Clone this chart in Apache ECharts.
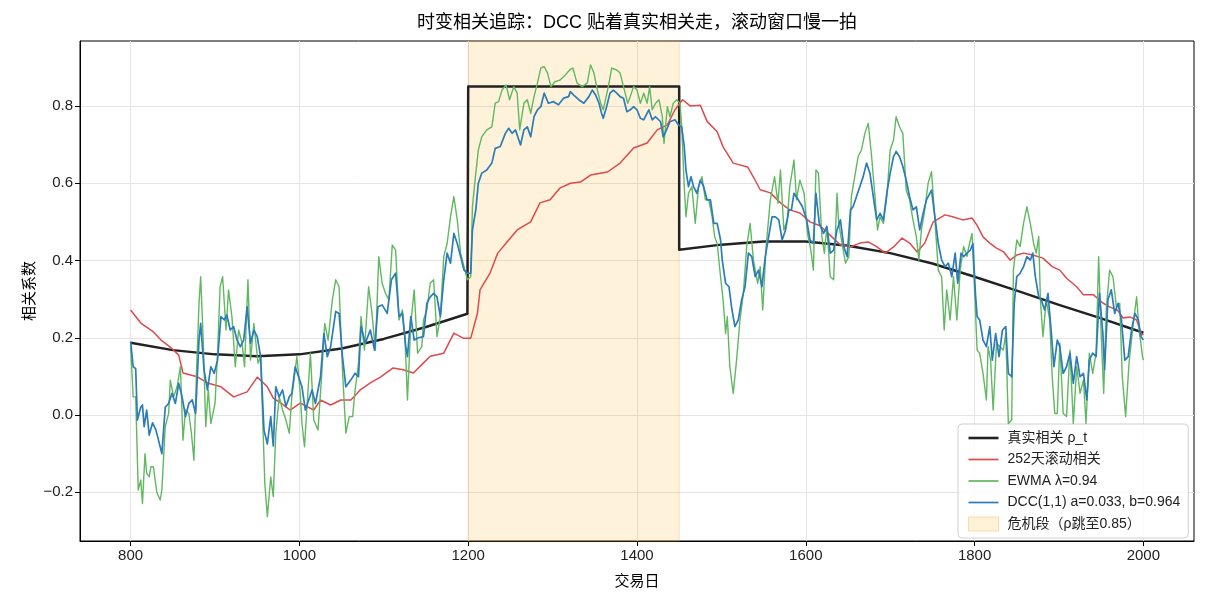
<!DOCTYPE html>
<html>
<head>
<meta charset="utf-8">
<script src="https://cdn.jsdelivr.net/npm/echarts@6/dist/echarts.min.js"></script>
<style>
html,body{margin:0;padding:0;background:#fff;}
#chart{width:1210px;height:605px;}
</style>
</head>
<body>
<div id="chart"></div>
<script>
// ---- data ----
const xTicks = [800, 1000, 1200, 1400, 1600, 1800, 2000];
const yTicks = [-0.2, 0.0, 0.2, 0.4, 0.6, 0.8];
const crisisRange = [1200, 1450];

const trueRho = [
  [800,0.187],[850,0.168],[900,0.157],[950,0.152],[1000,0.157],[1050,0.172],[1100,0.197],[1150,0.228],[1199,0.262],
  [1200,0.85],[1450,0.85],[1450,0.428],
  [1500,0.441],[1550,0.449],[1600,0.449],[1650,0.438],[1700,0.419],[1750,0.392],[1800,0.358],[1850,0.322],[1900,0.285],[1950,0.25],[2000,0.213]
];

const rolling252 = [
  [800,0.272],[812,0.238],[827,0.215],[836,0.194],[847,0.176],[857,0.155],[862,0.109],[879,0.099],[891,0.083],[907,0.073],
  [922,0.047],[938,0.06],[950,0.098],[962,0.073],[969,0.044],[978,0.031],[989,0.013],[1001,0.031],[1017,0.013],[1025,0.039],
  [1037,0.026],[1049,0.039],[1061,0.039],[1072,0.065],[1084,0.083],[1096,0.098],[1111,0.122],[1123,0.117],[1135,0.109],[1147,0.135],
  [1155,0.152],[1171,0.16],[1183,0.212],[1194,0.199],[1203,0.199],[1211,0.264],[1214,0.324],[1226,0.368],[1235,0.419],[1246,0.448],
  [1258,0.479],[1274,0.5],[1285,0.549],[1297,0.557],[1309,0.588],[1321,0.6],[1333,0.603],[1345,0.621],[1365,0.629],[1380,0.652],
  [1396,0.691],[1412,0.704],[1424,0.738],[1436,0.751],[1445,0.79],[1454,0.816],[1463,0.8],[1475,0.802],[1483,0.76],[1495,0.733],
  [1502,0.694],[1514,0.652],[1531,0.642],[1538,0.616],[1546,0.583],[1558,0.575],[1570,0.549],[1581,0.531],[1593,0.523],[1605,0.5],
  [1617,0.49],[1629,0.465],[1641,0.44],[1653,0.435],[1664,0.445],[1674,0.448],[1684,0.436],[1694,0.419],[1704,0.435],[1714,0.458],
  [1723,0.445],[1732,0.422],[1741,0.445],[1751,0.5],[1765,0.518],[1774,0.513],[1786,0.505],[1797,0.51],[1803,0.491],[1810,0.461],
  [1818,0.445],[1826,0.432],[1834,0.423],[1842,0.401],[1850,0.414],[1858,0.419],[1869,0.414],[1881,0.406],[1892,0.384],[1901,0.375],
  [1909,0.354],[1921,0.332],[1929,0.311],[1941,0.311],[1952,0.29],[1960,0.28],[1969,0.272],[1976,0.251],[1984,0.254],[1992,0.246],
  [1998,0.207],[2000,0.21]
];

const ewma = [
  [800,0.177],[803,0.047],[806,0.047],[809,-0.194],[812,-0.168],[814,-0.229],[817,-0.1],[819,-0.151],[822,-0.16],[824,-0.134],
  [827,-0.134],[831,-0.2],[835,-0.22],[837,-0.194],[841,-0.03],[845,0.004],[847,0.09],[851,0.047],[855,0.073],[859,0.125],
  [862,-0.065],[865,0.013],[869,0.004],[872,-0.047],[875,-0.117],[878,0.108],[881,0.289],[883,0.358],[886,0.194],[889,-0.03],
  [892,0.065],[895,-0.022],[900,0.03],[903,0.16],[906,0.332],[909,0.358],[913,0.22],[916,0.324],[920,0.255],[924,0.125],
  [928,0.22],[932,0.186],[935,0.125],[939,0.35],[942,0.142],[946,0.237],[951,0.134],[954,0.151],[959,-0.177],[962,-0.263],
  [966,-0.16],[969,-0.211],[972,-0.047],[976,0.047],[980,0.013],[984,-0.013],[988,-0.047],[991,0.047],[997,0.151],[1001,0.056],
  [1003,-0.022],[1006,-0.082],[1009,0.022],[1013,0.16],[1017,-0.013],[1022,-0.039],[1026,0.091],[1030,0.237],[1034,0.194],[1039,0.298],
  [1043,0.35],[1047,0.332],[1051,0.117],[1055,-0.047],[1059,-0.004],[1063,-0.004],[1066,0.065],[1070,0.134],[1073,0.255],[1077,0.168],
  [1082,0.332],[1086,0.263],[1090,0.168],[1094,0.41],[1098,0.341],[1102,0.315],[1106,0.298],[1110,0.44],[1114,0.427],[1118,0.246],
  [1122,0.272],[1125,0.203],[1128,0.039],[1132,0.237],[1136,0.324],[1140,0.16],[1145,0.177],[1147,0.246],[1151,0.272],[1155,0.341],
  [1159,0.35],[1163,0.203],[1167,0.255],[1171,0.41],[1175,0.444],[1179,0.513],[1183,0.565],[1187,0.505],[1191,0.419],[1195,0.384],
  [1199,0.35],[1203,0.358],[1205,0.539],[1209,0.626],[1212,0.686],[1216,0.72],[1222,0.738],[1228,0.746],[1232,0.807],[1236,0.811],
  [1240,0.841],[1245,0.854],[1249,0.816],[1254,0.85],[1258,0.833],[1261,0.738],[1266,0.807],[1270,0.816],[1274,0.781],[1278,0.824],
  [1282,0.859],[1286,0.898],[1290,0.902],[1294,0.885],[1298,0.85],[1303,0.863],[1309,0.867],[1315,0.88],[1321,0.895],[1324,0.898],
  [1329,0.859],[1335,0.85],[1341,0.859],[1345,0.906],[1349,0.885],[1353,0.841],[1357,0.807],[1360,0.79],[1366,0.85],[1370,0.898],
  [1376,0.893],[1380,0.885],[1384,0.85],[1389,0.807],[1392,0.824],[1396,0.85],[1400,0.841],[1404,0.807],[1408,0.833],[1412,0.807],
  [1415,0.85],[1418,0.79],[1422,0.807],[1426,0.816],[1430,0.772],[1432,0.703],[1436,0.798],[1439,0.772],[1443,0.807],[1447,0.816],
  [1451,0.807],[1453,0.746],[1456,0.591],[1458,0.513],[1461,0.574],[1465,0.591],[1469,0.496],[1473,0.591],[1477,0.617],[1481,0.557],
  [1485,0.557],[1489,0.513],[1492,0.462],[1495,0.444],[1499,0.358],[1502,0.298],[1505,0.211],[1507,0.255],[1510,0.125],[1514,0.056],
  [1516,0.056],[1518,0.142],[1522,0.246],[1526,0.315],[1530,0.436],[1534,0.496],[1538,0.401],[1543,0.341],[1546,0.384],[1549,0.272],
  [1553,0.436],[1558,0.557],[1563,0.617],[1567,0.548],[1570,0.634],[1574,0.479],[1578,0.505],[1581,0.591],[1586,0.66],[1589,0.557],
  [1593,0.608],[1598,0.574],[1602,0.47],[1606,0.427],[1609,0.375],[1612,0.634],[1615,0.626],[1619,0.462],[1622,0.419],[1625,0.488],
  [1629,0.358],[1633,0.35],[1637,0.574],[1639,0.496],[1643,0.444],[1647,0.393],[1651,0.41],[1654,0.565],[1658,0.617],[1662,0.669],
  [1666,0.686],[1670,0.729],[1674,0.755],[1678,0.669],[1682,0.565],[1685,0.479],[1688,0.513],[1692,0.496],[1696,0.565],[1700,0.686],
  [1704,0.712],[1707,0.772],[1711,0.746],[1715,0.729],[1719,0.582],[1723,0.557],[1727,0.505],[1731,0.462],[1734,0.401],[1737,0.479],
  [1741,0.531],[1745,0.6],[1749,0.63],[1753,0.505],[1757,0.375],[1761,0.358],[1764,0.22],[1767,0.324],[1771,0.246],[1775,0.358],
  [1779,0.246],[1783,0.375],[1787,0.436],[1791,0.41],[1794,0.444],[1797,0.47],[1801,0.272],[1803,0.168],[1806,0.16],[1810,0.108],
  [1814,0.039],[1816,0.177],[1819,0.142],[1822,0.013],[1826,0.186],[1830,0.177],[1834,0.168],[1837,0.211],[1840,-0.022],[1844,-0.013],
  [1846,0.375],[1850,0.453],[1854,0.436],[1858,0.496],[1862,0.539],[1866,0.496],[1870,0.444],[1873,0.419],[1876,0.462],[1878,0.298],
  [1881,0.203],[1885,0.298],[1889,0.246],[1892,0.099],[1895,0.004],[1898,0.004],[1901,0.186],[1905,0.004],[1909,-0.004],[1913,0.168],
  [1917,-0.022],[1921,0.125],[1925,0.056],[1929,0.091],[1932,-0.022],[1936,0.16],[1940,0.108],[1944,0.16],[1947,0.41],[1950,0.211],
  [1953,0.056],[1956,0.272],[1960,0.375],[1964,0.358],[1968,0.28],[1972,0.289],[1975,0.099],[1979,-0.004],[1983,0.134],[1988,0.237],
  [1992,0.306],[1995,0.22],[1999,0.151],[2000,0.142]
];

const dcc = [
  [800,0.19],[803,0.125],[806,0.12],[808,-0.013],[810,0.004],[812,0.02],[814,0.026],[816,-0.03],[819,0.013],[822,-0.052],
  [826,-0.02],[830,-0.039],[833,-0.065],[837,-0.1],[841,0.02],[845,0.03],[849,0.056],[853,0.03],[857,0.082],[861,0.047],
  [865,-0.004],[869,0.03],[873,0.039],[877,0.004],[881,0.194],[883,0.237],[887,0.117],[891,0.065],[895,0.125],[899,0.108],
  [903,0.142],[907,0.255],[911,0.246],[914,0.259],[918,0.22],[922,0.229],[926,0.194],[930,0.177],[934,0.194],[938,0.28],
  [942,0.186],[946,0.22],[950,0.203],[954,0.151],[958,-0.039],[962,-0.075],[966,-0.004],[969,-0.08],[972,0.073],[976,0.047],
  [980,0.065],[984,0.022],[988,0.047],[991,0.056],[995,0.125],[999,0.099],[1003,0.073],[1007,0.013],[1011,0.039],[1015,0.065],
  [1019,0.03],[1025,0.099],[1029,0.211],[1033,0.151],[1037,0.177],[1043,0.268],[1047,0.263],[1051,0.151],[1055,0.073],[1061,0.091],
  [1066,0.108],[1070,0.099],[1073,0.229],[1078,0.186],[1084,0.22],[1089,0.168],[1093,0.28],[1098,0.285],[1104,0.263],[1109,0.35],
  [1114,0.367],[1118,0.255],[1122,0.263],[1126,0.177],[1128,0.151],[1132,0.255],[1136,0.194],[1141,0.2],[1147,0.203],[1151,0.289],
  [1155,0.306],[1159,0.315],[1163,0.306],[1167,0.255],[1171,0.35],[1175,0.419],[1179,0.393],[1183,0.47],[1187,0.444],[1191,0.41],
  [1195,0.375],[1199,0.367],[1203,0.367],[1205,0.479],[1209,0.531],[1212,0.6],[1216,0.626],[1222,0.634],[1228,0.652],[1232,0.69],
  [1238,0.695],[1244,0.729],[1248,0.742],[1252,0.729],[1256,0.738],[1262,0.699],[1266,0.738],[1270,0.746],[1274,0.72],[1278,0.772],
  [1282,0.79],[1286,0.798],[1290,0.833],[1295,0.807],[1301,0.811],[1307,0.803],[1313,0.82],[1319,0.824],[1321,0.837],[1325,0.828],
  [1331,0.816],[1337,0.807],[1343,0.824],[1347,0.841],[1351,0.828],[1355,0.807],[1358,0.781],[1360,0.768],[1364,0.798],[1368,0.833],
  [1372,0.841],[1376,0.833],[1380,0.824],[1384,0.82],[1388,0.785],[1392,0.79],[1396,0.798],[1400,0.79],[1404,0.768],[1408,0.764],
  [1414,0.79],[1418,0.764],[1422,0.772],[1428,0.759],[1431,0.72],[1435,0.738],[1439,0.759],[1445,0.764],[1449,0.751],[1453,0.745],
  [1456,0.695],[1458,0.634],[1461,0.591],[1464,0.617],[1467,0.591],[1471,0.574],[1475,0.608],[1479,0.591],[1483,0.557],[1487,0.557],
  [1491,0.496],[1495,0.496],[1499,0.453],[1501,0.401],[1505,0.341],[1509,0.332],[1512,0.28],[1516,0.229],[1520,0.246],[1524,0.298],
  [1528,0.332],[1532,0.419],[1536,0.41],[1540,0.358],[1544,0.375],[1548,0.332],[1552,0.41],[1556,0.462],[1560,0.513],[1564,0.513],
  [1568,0.505],[1572,0.453],[1576,0.479],[1580,0.531],[1583,0.531],[1586,0.574],[1591,0.557],[1596,0.539],[1601,0.505],[1605,0.453],
  [1609,0.444],[1612,0.574],[1616,0.496],[1621,0.47],[1625,0.488],[1629,0.419],[1633,0.427],[1637,0.479],[1641,0.505],[1645,0.436],
  [1649,0.41],[1653,0.531],[1656,0.539],[1660,0.565],[1664,0.591],[1668,0.617],[1672,0.652],[1676,0.626],[1680,0.565],[1684,0.505],
  [1688,0.522],[1692,0.505],[1696,0.574],[1700,0.626],[1704,0.669],[1707,0.682],[1711,0.669],[1715,0.643],[1719,0.608],[1723,0.565],
  [1727,0.531],[1731,0.539],[1735,0.479],[1739,0.522],[1743,0.557],[1749,0.582],[1753,0.513],[1757,0.444],[1761,0.401],[1765,0.384],
  [1769,0.393],[1773,0.358],[1777,0.419],[1780,0.341],[1784,0.419],[1787,0.41],[1791,0.419],[1795,0.427],[1798,0.444],[1801,0.315],
  [1803,0.255],[1806,0.246],[1810,0.194],[1814,0.177],[1818,0.229],[1821,0.142],[1825,0.211],[1829,0.151],[1833,0.22],[1837,0.229],
  [1840,0.108],[1844,0.099],[1847,0.289],[1850,0.358],[1854,0.367],[1858,0.384],[1862,0.41],[1866,0.401],[1869,0.419],[1872,0.358],
  [1876,0.306],[1879,0.298],[1883,0.272],[1887,0.315],[1891,0.211],[1894,0.125],[1898,0.194],[1901,0.177],[1905,0.108],[1909,0.125],
  [1913,0.16],[1917,0.082],[1921,0.151],[1925,0.099],[1929,0.108],[1933,0.039],[1936,0.142],[1940,0.16],[1944,0.151],[1948,0.315],
  [1952,0.211],[1954,0.117],[1958,0.298],[1962,0.324],[1966,0.263],[1970,0.289],[1974,0.246],[1978,0.142],[1982,0.151],[1986,0.22],
  [1990,0.263],[1994,0.246],[1997,0.203],[2000,0.194]
];

const names = {
  truth: '真实相关 ρ_t',
  rolling: '252天滚动相关',
  ewma: 'EWMA λ=0.94',
  dcc: 'DCC(1,1) a=0.033, b=0.964',
  crisis: '危机段（ρ跳至0.85）'
};

// ---- chart ----
const FONT = "'Liberation Sans', 'Noto Sans CJK SC', sans-serif";
const chart = echarts.init(document.getElementById('chart'), null, {renderer: 'canvas'});
const fmtY = v => v.toFixed(1).replace('-', '\u2212');
const fmtX = v => String(Math.round(v));

const lineSeries = (name, data, color, width, z) => ({
  name, type: 'line', data, z,
  symbol: 'none', showSymbol: false, sampling: null,
  lineStyle: {color, width, join: 'round'},
  itemStyle: {color},
  emphasis: {disabled: true}
});

const thickIcon = 'path://M0,0H30V2.6H0Z';
const thinIcon = 'path://M0,0H30V1.7H0Z';

chart.setOption({
  animation: false,
  textStyle: {fontFamily: FONT},
  title: {
    text: '时变相关追踪：DCC 贴着真实相关走，滚动窗口慢一拍',
    left: 637, top: 14, textAlign: 'center', padding: 0,
    textStyle: {fontSize: 18, fontWeight: 'normal', color: '#000', fontFamily: FONT}
  },
  grid: {left: 80, right: 16, top: 41, bottom: 64, show: true, borderColor: '#000', borderWidth: 1, containLabel: false},
  xAxis: {
    type: 'value', min: 740, max: 2060,
    name: '交易日', nameLocation: 'middle', nameGap: 33, nameMoveOverlap: false,
    nameTextStyle: {fontSize: 15, color: '#000', fontFamily: FONT},
    axisLine: {show: true, onZero: false, lineStyle: {color: '#000', width: 1}},
    axisTick: {show: true, length: 5, customValues: xTicks, lineStyle: {color: '#000'}},
    axisLabel: {customValues: xTicks, fontSize: 15, color: '#222', margin: 7, formatter: fmtX, fontFamily: FONT},
    splitLine: {show: true, lineStyle: {color: '#e5e5e5', width: 1}}
  },
  yAxis: {
    type: 'value', min: -0.326, max: 0.968,
    name: '相关系数', nameLocation: 'middle', nameGap: 43, nameRotate: 90, nameMoveOverlap: false,
    nameTextStyle: {fontSize: 15, color: '#000', fontFamily: FONT},
    axisLine: {show: true, onZero: false, lineStyle: {color: '#000', width: 1}},
    axisTick: {show: true, length: 5, customValues: yTicks, lineStyle: {color: '#000'}},
    axisLabel: {customValues: yTicks, fontSize: 15, color: '#222', margin: 7, formatter: fmtY, fontFamily: FONT},
    splitLine: {show: true, lineStyle: {color: '#e5e5e5', width: 1}}
  },
  legend: {
    orient: 'vertical', left: 958, top: 424,
    itemWidth: 30, itemHeight: 14, itemGap: 5.5,
    padding: [6, 8, 6, 10],
    backgroundColor: 'rgba(255,255,255,0.85)', borderColor: '#d0d0d0', borderWidth: 1, borderRadius: 4,
    textStyle: {fontSize: 14, lineHeight: 16, color: '#222', fontFamily: FONT, padding: [0, 0, 0, 4]},
    selectedMode: false,
    data: [
      {name: names.truth, icon: thickIcon},
      {name: names.rolling, icon: thinIcon},
      {name: names.ewma, icon: thinIcon},
      {name: names.dcc, icon: thinIcon},
      {name: names.crisis, icon: 'rect', itemStyle: {color: 'rgba(255,165,0,0.15)', borderColor: 'rgba(240,160,40,0.35)', borderWidth: 1}}
    ]
  },
  series: [
    {
      name: names.crisis, type: 'line', data: [], z: 1,
      symbol: 'none', itemStyle: {color: 'rgba(255,165,0,0.15)'},
      lineStyle: {color: 'rgba(255,165,0,0.15)'},
      markArea: {
        silent: true,
        itemStyle: {color: 'rgba(255,165,0,0.14)', borderColor: 'rgba(235,160,60,0.3)', borderWidth: 1},
        data: [[{xAxis: crisisRange[0]}, {xAxis: crisisRange[1]}]]
      }
    },
    lineSeries(names.truth, trueRho, '#222222', 2.5, 2),
    lineSeries(names.rolling, rolling252, '#de4a4b', 1.5, 3),
    lineSeries(names.ewma, ewma, '#60b860', 1.4, 4),
    lineSeries(names.dcc, dcc, '#2b7cb9', 1.7, 5)
  ]
});
</script>
</body>
</html>
